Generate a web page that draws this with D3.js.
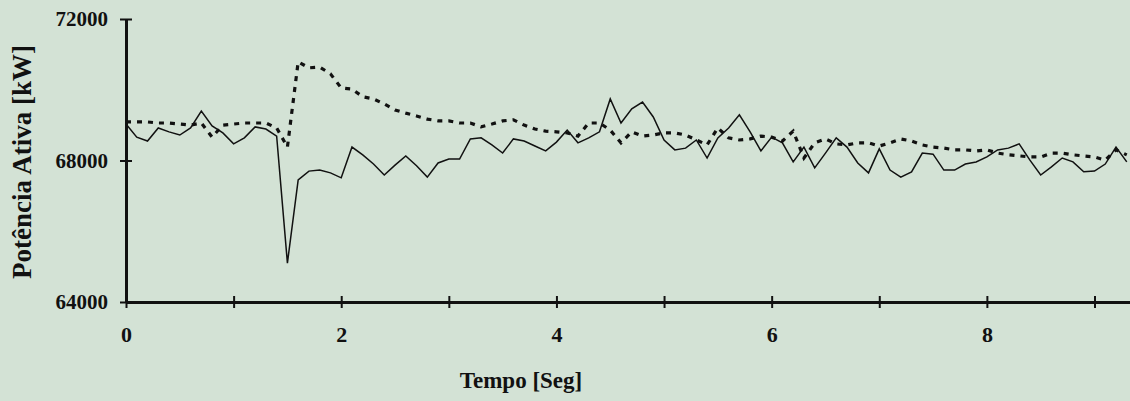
<!DOCTYPE html>
<html>
<head>
<meta charset="utf-8">
<script src="https://cdn.jsdelivr.net/npm/d3@7"></script>
<style>
    html, body { margin: 0; padding: 0; background: #d3e2d5; }
    svg { display: block; }
    .axis path, .axis line { stroke: #111; }
    .axis text { font-family: 'Liberation Serif', 'Times New Roman', serif; font-weight: bold; fill: #111; }
    .title { font-family: 'Liberation Serif', 'Times New Roman', serif; font-weight: bold; fill: #111; }
</style>
</head>
<body>
<div id="chart"></div>
<script>
// Sample step is 0.1 s
const step = 0.1;

// Potência medida (linha contínua), kW
const measured = [
    69030, 68660, 68550, 68920, 68810, 68720, 68920, 69400, 68980, 68780,
    68470, 68640, 68950, 68890, 68690, 65100, 67450, 67700, 67730, 67650,
    67510, 68380, 68160, 67900, 67590, 67870, 68130, 67850, 67530, 67930,
    68040, 68040, 68610, 68640, 68440, 68210, 68610, 68550, 68410, 68270,
    68520, 68860, 68500, 68640, 68810, 69740, 69060, 69460, 69650, 69230,
    68580, 68300, 68350, 68580, 68070, 68640, 68920, 69290, 68810, 68270,
    68660, 68500, 67960, 68380, 67790, 68210, 68640, 68380, 67930, 67650,
    68330, 67730, 67530, 67680, 68210, 68180, 67730, 67730, 67900, 67960,
    68100, 68300, 68350, 68470, 68010, 67590, 67820, 68070, 67960, 67680,
    67700, 67900, 68380, 67960
];

// Potência simulada (linha pontilhada), kW
const simulated = [
    69090, 69090, 69090, 69060, 69060, 69030, 69000, 69060, 68660, 69000,
    69030, 69060, 69060, 69060, 68920, 68380, 70790, 70620, 70640, 70450,
    70050, 70020, 69800, 69740, 69600, 69430, 69340, 69260, 69170, 69120,
    69120, 69060, 69060, 68950, 69030, 69120, 69150, 69000, 68890, 68830,
    68810, 68780, 68690, 69060, 69060, 68860, 68500, 68810, 68690, 68720,
    68780, 68780, 68720, 68580, 68440, 68920, 68640, 68580, 68610, 68690,
    68660, 68550, 68830, 68070, 68500, 68610, 68470, 68440, 68500, 68500,
    68410, 68500, 68610, 68550, 68440, 68380, 68350, 68300, 68300, 68270,
    68300, 68210, 68160, 68130, 68100, 68100, 68210, 68210, 68160, 68130,
    68100, 68010, 68300, 68160
];

const yTicks = [64000, 68000, 72000];
const xTicks = [0, 1, 2, 3, 4, 5, 6, 7, 8, 9];
const xLabel = 'Tempo [Seg]';
const yLabel = 'Potência Ativa [kW]';

const W = 1130, H = 401;
const margin = { left: 126, right: 0, top: 19, bottom: 99 };

const svg = d3.select('#chart')
    .append('svg')
    .attr('width', W)
    .attr('height', H);

// Scales
const x = d3.scaleLinear()
    .domain([0, 9.33])
    .range([margin.left, W - margin.right]);

const y = d3.scaleLinear()
    .domain([64000, 72000])
    .range([H - margin.bottom, margin.top]);

// Axes
const xAxis = svg.append('g')
    .attr('class', 'axis')
    .attr('transform', `translate(0,${y(64000)})`)
    .call(d3.axisBottom(x)
        .tickValues(xTicks)
        .tickSize(0)
        .tickPadding(24)
        .tickFormat(d => d % 2 === 0 ? d : ''));

xAxis.select('.domain').attr('stroke-width', 3);
xAxis.selectAll('.tick line').attr('y1', -6).attr('y2', 6).attr('stroke-width', 2);
xAxis.selectAll('text').style('font-size', '22px');

const yAxis = svg.append('g')
    .attr('class', 'axis')
    .attr('transform', `translate(${x(0)},0)`)
    .call(d3.axisLeft(y)
        .tickValues(yTicks)
        .tickSize(0)
        .tickPadding(18)
        .tickFormat(d3.format('d')));

yAxis.select('.domain').attr('stroke-width', 3);
yAxis.selectAll('.tick line').attr('x1', -6).attr('x2', 6).attr('stroke-width', 2);
yAxis.selectAll('text').style('font-size', '21px');

// Titles
svg.append('text')
    .attr('class', 'title')
    .attr('x', 521)
    .attr('y', 388)
    .attr('text-anchor', 'middle')
    .style('font-size', '23px')
    .text(xLabel);

svg.append('text')
    .attr('class', 'title')
    .attr('transform', 'translate(31,162) rotate(-90)')
    .attr('text-anchor', 'middle')
    .style('font-size', '27px')
    .text(yLabel);

// Lines
const line = d3.line()
    .x((d, i) => x(i * step))
    .y(d => y(d));

svg.append('path')
    .datum(simulated)
    .attr('fill', 'none')
    .attr('stroke', '#111')
    .attr('stroke-width', 3.2)
    .attr('stroke-dasharray', '5,6')
    .attr('d', line);

svg.append('path')
    .datum(measured)
    .attr('fill', 'none')
    .attr('stroke', '#111')
    .attr('stroke-width', 1.5)
    .attr('stroke-linejoin', 'miter')
    .attr('d', line);
</script>
</body>
</html>
